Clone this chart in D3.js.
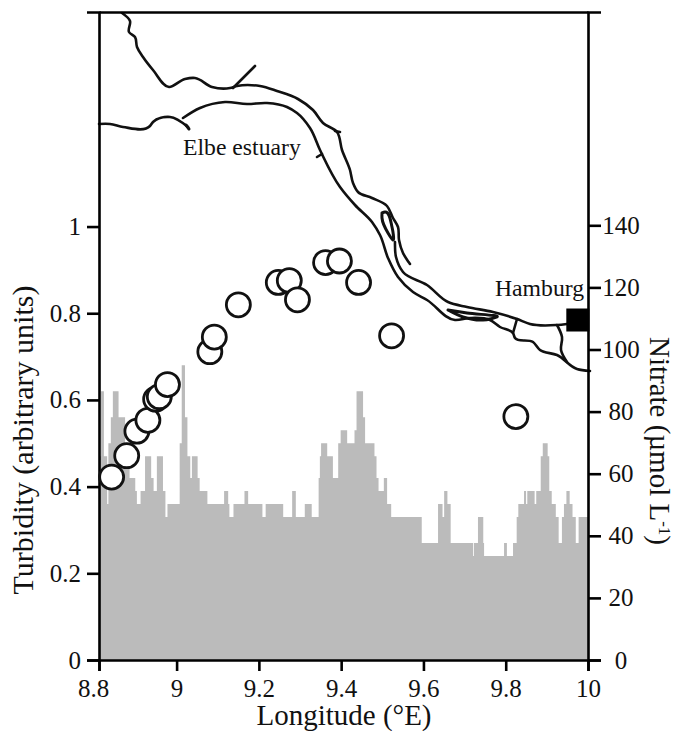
<!DOCTYPE html>
<html>
<head>
<meta charset="utf-8">
<style>
  body { margin: 0; background: #fff; }
  text { font-family: "Liberation Serif", serif; fill: #111; }
</style>
<script src="https://cdn.jsdelivr.net/npm/d3@7"></script>
</head>
<body>
<div id="chart"></div>
<script>
// turbidity steps, each value holds from its longitude to the next one
const turbLon = [8.8,8.805,8.812,8.82,8.823,8.829,8.834,8.848,8.864,8.875,8.889,8.893,8.902,8.913,8.928,8.934,8.942,8.957,8.963,8.968,8.998,9.003,9.011,9.017,9.024,9.028,9.042,9.047,9.066,9.107,9.117,9.12,9.13,9.157,9.166,9.201,9.209,9.252,9.274,9.283,9.305,9.322,9.339,9.342,9.345,9.36,9.374,9.387,9.393,9.409,9.427,9.432,9.448,9.453,9.476,9.481,9.486,9.499,9.507,9.517,9.592,9.632,9.643,9.647,9.655,9.663,9.718,9.72,9.73,9.743,9.745,9.794,9.801,9.816,9.825,9.829,9.843,9.848,9.851,9.869,9.873,9.884,9.889,9.901,9.905,9.911,9.921,9.928,9.936,9.941,9.947,9.955,9.962,9.97,9.977,10];
const turbVal = [.47,.62,.47,.36,.5,.56,.62,.56,.5,.42,.39,.36,.39,.47,.42,.39,.47,.39,.33,.36,.5,.68,.56,.47,.42,.47,.42,.39,.36,.39,.36,.33,.36,.39,.36,.33,.36,.33,.39,.33,.36,.33,.42,.47,.5,.47,.42,.5,.53,.5,.53,.62,.56,.5,.47,.42,.39,.42,.36,.33,.27,.36,.33,.39,.36,.27,.24,.27,.33,.27,.24,.27,.24,.27,.33,.36,.39,.36,.39,.36,.39,.47,.5,.47,.39,.36,.33,.27,.33,.36,.39,.36,.33,.27,.33,.33];

// nitrate samples
const nitrateLon = [8.831,8.868,8.893,8.92,8.939,8.948,8.968,9.072,9.083,9.142,9.24,9.267,9.287,9.356,9.39,9.437,9.518,9.823];
const nitrateVal = [58.9,65.8,73.7,77.2,84,84.8,88.7,99.3,104,114.4,121.6,122.2,116,128,128.5,121.6,104.4,78.4];

const turbTicks = [0,0.2,0.4,0.6,0.8,1];
const nitrateTicks = [0,20,40,60,80,100,120,140];
const lonTicks = [8.8,9,9.2,9.4,9.6,9.8,10];

// river outline, in scan units, goes through mapX / mapY
const northBank = [[122,13],[130,21],[129,32],[135,37],[137,47],[143,57],[153,70],[169,87],[185,79],[195,78],[212,87],[230,88],[237,86],[260,86],[277,91],[298,99],[313,110],[323,123],[337,132],[342,150],[350,170],[353,183],[358,192],[372,198],[387,206],[393,218],[398,227],[399,240],[403,253],[410,264]];
const northBank2 = [[395,242],[396,257],[403,272],[427,285],[448,302],[467,307],[493,312],[517,319],[530,324],[557,325],[567,324]];
const southCoast = [[99,124],[110,124],[123,127],[150,126],[153,122],[170,117],[188,127]];
const southBank = [[183,118],[200,108],[225,102],[247,104],[267,103],[287,107],[297,113],[310,128],[320,150],[340,187],[355,205],[372,222],[380,235],[388,258],[398,277],[413,292],[427,300],[455,320],[470,318],[490,320],[500,327],[513,333],[515,338],[533,342],[540,350],[557,355],[577,369],[590,371]];
const branches = [[[233,88],[255,66]],[[517,319],[513,333]],[[557,325],[562,337],[561,350],[567,362]],[[335,131],[340,132]],[[317,157],[322,154]]];
const islands = [[[382,213],[385,212],[392,227],[393,240],[388,233],[382,218],[382,213]],[[448,310],[467,313],[497,317],[483,320],[463,317],[448,310]],[[186,125],[189,129]]];

const hamburgLon = 9.975;
const hamburgNitrate = 109.5;

const width = 677;
const height = 731;
const left = 99;
const top_ = 12;
const plotW = 489;
const plotH = 648;

const x = d3.scaleLinear().domain([8.8,10]).range([0,plotW]);
// in the source the first tick interval is drawn short, so the axis gets its own stops
const xTicks = d3.scaleLinear().domain([8.8,9,10]).range([0,77.6,plotW]);
const yTurb = d3.scaleLinear().domain([0,1.495]).range([plotH,0]);
const yNitrate = d3.scaleLinear().domain([0,208.7]).range([plotH,0]);
const mapX = d3.scaleLinear().domain([99,588]).range([0,plotW]);
const mapY = d3.scaleLinear().domain([12,660]).range([0,plotH]);

const svg = d3.select('#chart').append('svg')
  .attr('width',width)
  .attr('height',height)
  .style('display','block');

const g = svg.append('g').attr('transform','translate(' + left + ',' + top_ + ')');

//turbidity histogram
const turbData = turbLon.map((d,i) => ({lon:d, val:turbVal[i]}));
const area = d3.area()
  .x(d => x(d.lon))
  .y0(plotH)
  .y1(d => yTurb(d.val))
  .curve(d3.curveStepAfter);

g.append('path')
  .datum(turbData)
  .attr('d',area)
  .attr('fill','#bbbbbb');

//river
const riverLine = d3.line().x(d => mapX(d[0])).y(d => mapY(d[1])).curve(d3.curveCatmullRom.alpha(1));
const river = g.append('g').attr('fill','none').attr('stroke','#111').attr('stroke-width',2.6).attr('stroke-linejoin','round').attr('stroke-linecap','round');

[northBank,northBank2,southCoast,southBank].concat(branches).forEach(d => {
  river.append('path').attr('d',riverLine(d));
});
islands.forEach(d => {
  river.append('path').attr('d',riverLine(d)).attr('stroke-width',3);
});

//axes
const styleAxis = (sel,size) => {
  sel.selectAll('path,line').attr('stroke','#000').attr('stroke-width',2.6);
  sel.selectAll('text').attr('font-size',size).attr('font-family','"Liberation Serif", serif').attr('fill','#111');
};

g.append('g')
  .call(d3.axisLeft(yTurb).tickValues(turbTicks).tickFormat(d3.format('~g')).tickSizeOuter(0).tickSize(12).tickPadding(6))
  .call(styleAxis,25);

g.append('g')
  .attr('transform','translate(' + plotW + ',0)')
  .call(d3.axisRight(yNitrate).tickValues(nitrateTicks).tickSizeOuter(0).tickSize(13))
  .call(styleAxis,25)
  .call(a => a.selectAll('text').attr('text-anchor','middle').attr('x',33));

g.append('g')
  .attr('transform','translate(0,' + plotH + ')')
  .call(d3.axisBottom(xTicks).tickValues(lonTicks).tickFormat(d3.format('~g')).tickSizeOuter(0).tickSize(11).tickPadding(8))
  .call(styleAxis,25)
  .call(a => a.selectAll('text').filter(d => d === 8.8).attr('dx',-6));

g.append('g')
  .call(d3.axisTop(x).tickValues([]).tickSizeOuter(0))
  .call(styleAxis,25);

//nitrate circles
g.selectAll('circle')
  .data(nitrateLon)
  .enter()
  .append('circle')
  .attr('cx',d => x(d))
  .attr('cy',(d,i) => yNitrate(nitrateVal[i]))
  .attr('r',12)
  .attr('fill','#fff')
  .attr('stroke','#111')
  .attr('stroke-width',2.8);

//hamburg marker
g.append('rect')
  .attr('x',x(hamburgLon) - 11.5)
  .attr('y',yNitrate(hamburgNitrate) - 11.5)
  .attr('width',23)
  .attr('height',23)
  .attr('fill','#000');

//labels
svg.append('text').text('Hamburg')
  .attr('x',495).attr('y',296).attr('font-size',23.7);

svg.append('text').text('Elbe estuary')
  .attr('x',183).attr('y',155).attr('font-size',23.7);

svg.append('text').text('Longitude (°E)')
  .attr('text-anchor','middle').attr('x',344).attr('y',725).attr('font-size',29);

svg.append('text').text('Turbidity (arbitrary units)')
  .attr('text-anchor','middle').attr('font-size',30)
  .attr('transform','translate(33,440) rotate(-90)');

const nitrateLabel = svg.append('text')
  .attr('text-anchor','middle').attr('font-size',29)
  .attr('transform','translate(650,441) rotate(90)');
nitrateLabel.append('tspan').text('Nitrate (µmol L');
nitrateLabel.append('tspan').text('-1').attr('font-size',17).attr('dy',-9);
nitrateLabel.append('tspan').text(')').attr('dy',9);
</script>
</body>
</html>
